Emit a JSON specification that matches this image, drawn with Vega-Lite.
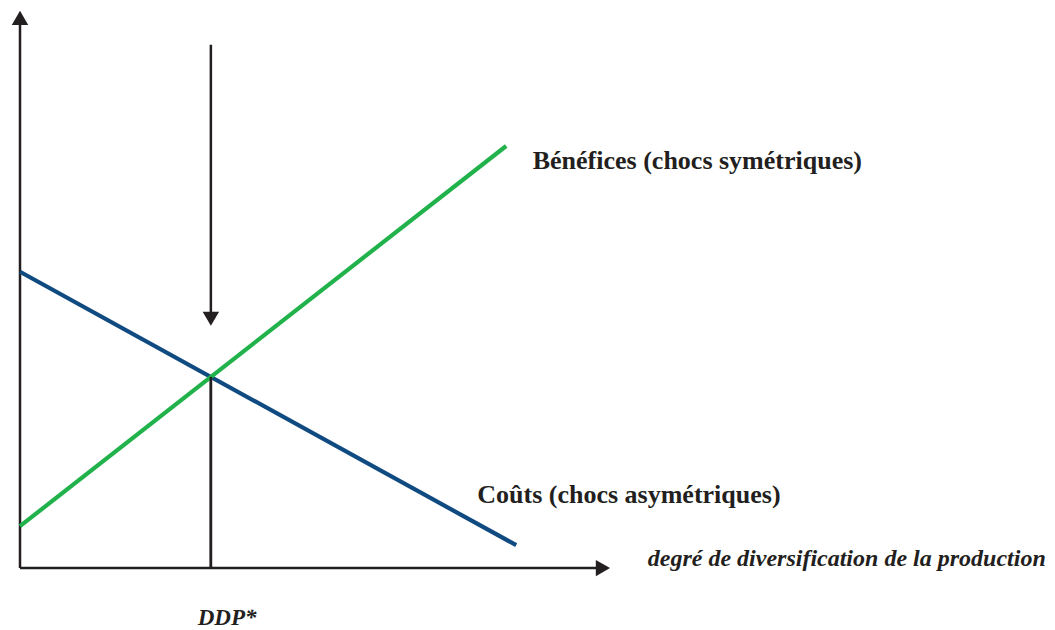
{
  "$schema": "https://vega.github.io/schema/vega-lite/v6.json",
  "width": 1055,
  "height": 630,
  "autosize": {"type": "fit", "contains": "padding"},
  "padding": 0,
  "background": "white",
  "config": {"view": {"stroke": null}},
  "datasets": {
    "frame": [
      {"part": "axe vertical", "o": 1, "x": 0, "y": 0},
      {"part": "axe vertical", "o": 2, "x": 0, "y": 98},
      {"part": "axe horizontal", "o": 1, "x": 0, "y": 0},
      {"part": "axe horizontal", "o": 2, "x": 97.8, "y": 0},
      {"part": "DDP", "o": 1, "x": 32.35, "y": 0},
      {"part": "DDP", "o": 2, "x": 32.35, "y": 34.2},
      {"part": "flèche", "o": 1, "x": 32.35, "y": 93.6},
      {"part": "flèche", "o": 2, "x": 32.35, "y": 45.8}
    ],
    "curves": [
      {"series": "Coûts", "o": 1, "x": 0, "y": 53.0},
      {"series": "Coûts", "o": 2, "x": 84.1, "y": 4.1},
      {"series": "Bénéfices", "o": 1, "x": 0, "y": 7.5},
      {"series": "Bénéfices", "o": 2, "x": 82.4, "y": 75.5}
    ],
    "heads": [
      {"dir": "up", "x": 0, "y": 98.4},
      {"dir": "right", "x": 98.8, "y": 0},
      {"dir": "down", "x": 32.35, "y": 44.6}
    ]
  },
  "layer": [
    {
      "data": {"name": "frame"},
      "mark": {"type": "line", "color": "#231f20", "strokeWidth": 2.5},
      "encoding": {
        "x": {"field": "x", "type": "quantitative", "scale": {"domain": [-3.39, 175.42], "nice": false, "zero": false}, "axis": null},
        "y": {"field": "y", "type": "quantitative", "scale": {"domain": [-10.89, 101.61], "nice": false, "zero": false}, "axis": null},
        "detail": {"field": "part"},
        "order": {"field": "o"}
      }
    },
    {
      "data": {"name": "curves"},
      "mark": {"type": "line", "strokeWidth": 4.2},
      "encoding": {
        "x": {"field": "x", "type": "quantitative", "scale": {"domain": [-3.39, 175.42], "nice": false, "zero": false}, "axis": null},
        "y": {"field": "y", "type": "quantitative", "scale": {"domain": [-10.89, 101.61], "nice": false, "zero": false}, "axis": null},
        "color": {"field": "series", "type": "nominal", "scale": {"domain": ["Coûts", "Bénéfices"], "range": ["#0f4a80", "#21b24b"]}, "legend": null},
        "order": {"field": "o"}
      }
    },
    {
      "data": {"name": "frame"},
      "transform": [{"filter": "datum.part == 'DDP'"}],
      "mark": {"type": "line", "color": "#231f20", "strokeWidth": 2.5},
      "encoding": {
        "x": {"field": "x", "type": "quantitative", "scale": {"domain": [-3.39, 175.42], "nice": false, "zero": false}, "axis": null},
        "y": {"field": "y", "type": "quantitative", "scale": {"domain": [-10.89, 101.61], "nice": false, "zero": false}, "axis": null},
        "order": {"field": "o"}
      }
    },
    {
      "data": {"name": "heads"},
      "mark": {"type": "point", "filled": true, "color": "#231f20", "size": 270, "opacity": 1},
      "encoding": {
        "x": {"field": "x", "type": "quantitative", "scale": {"domain": [-3.39, 175.42], "nice": false, "zero": false}, "axis": null},
        "y": {"field": "y", "type": "quantitative", "scale": {"domain": [-10.89, 101.61], "nice": false, "zero": false}, "axis": null},
        "shape": {"field": "dir", "type": "nominal", "scale": {"domain": ["up", "right", "down"], "range": ["triangle-up", "triangle-right", "triangle-down"]}, "legend": null}
      }
    },
    {
      "data": {"values": [
        {"label": "Bénéfices (chocs symétriques)", "x": 86.9, "y": 71.4},
        {"label": "Coûts (chocs asymétriques)", "x": 77.5, "y": 11.6}
      ]},
      "mark": {"type": "text", "align": "left", "baseline": "alphabetic", "font": "Liberation Serif", "fontWeight": "bold", "fontSize": 26, "color": "#231f20"},
      "encoding": {
        "x": {"field": "x", "type": "quantitative", "scale": {"domain": [-3.39, 175.42], "nice": false, "zero": false}, "axis": null},
        "y": {"field": "y", "type": "quantitative", "scale": {"domain": [-10.89, 101.61], "nice": false, "zero": false}, "axis": null},
        "text": {"field": "label"}
      }
    },
    {
      "data": {"values": [
        {"label": "degré de diversification de la production", "x": 106.4, "y": 0.4}
      ]},
      "mark": {"type": "text", "align": "left", "baseline": "alphabetic", "font": "Liberation Serif", "fontWeight": "bold", "fontStyle": "italic", "fontSize": 24, "color": "#231f20"},
      "encoding": {
        "x": {"field": "x", "type": "quantitative", "scale": {"domain": [-3.39, 175.42], "nice": false, "zero": false}, "axis": null},
        "y": {"field": "y", "type": "quantitative", "scale": {"domain": [-10.89, 101.61], "nice": false, "zero": false}, "axis": null},
        "text": {"field": "label"}
      }
    },
    {
      "data": {"values": [
        {"label": "DDP*", "x": 35.1, "y": -10.1}
      ]},
      "mark": {"type": "text", "align": "center", "baseline": "alphabetic", "font": "Liberation Serif", "fontWeight": "bold", "fontStyle": "italic", "fontSize": 23, "color": "#231f20"},
      "encoding": {
        "x": {"field": "x", "type": "quantitative", "scale": {"domain": [-3.39, 175.42], "nice": false, "zero": false}, "axis": null},
        "y": {"field": "y", "type": "quantitative", "scale": {"domain": [-10.89, 101.61], "nice": false, "zero": false}, "axis": null},
        "text": {"field": "label"}
      }
    }
  ]
}
